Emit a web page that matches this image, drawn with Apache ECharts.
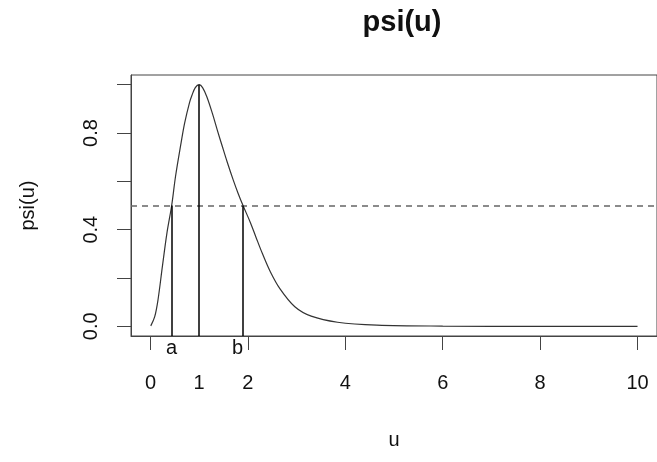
<!DOCTYPE html>
<html>
<head>
<meta charset="utf-8">
<script src="https://cdn.jsdelivr.net/npm/echarts@6/dist/echarts.min.js"></script>
<style>
  html, body { margin: 0; padding: 0; background: #fff; }
  #main { width: 657px; height: 462px; }
</style>
</head>
<body>
<div id="main"></div>
<script>
// curve
const uVals = [0.006, 0.087, 0.154, 0.244, 0.337, 0.435, 0.514, 0.629, 0.70, 0.80, 0.85, 0.92, 1.0,
  1.07, 1.157, 1.271, 1.372, 1.474, 1.575, 1.70, 1.80, 1.90, 2.05, 2.164, 2.30, 2.456, 2.66,
  2.964, 3.30, 3.84, 4.65, 6, 8, 10];
const psiVals = [0.002, 0.04, 0.109, 0.247, 0.385, 0.5, 0.62, 0.76, 0.84, 0.925, 0.955, 0.988, 1.0,
  0.988, 0.95, 0.881, 0.812, 0.745, 0.68, 0.605, 0.55, 0.5, 0.43, 0.37, 0.3, 0.228, 0.155,
  0.081, 0.042, 0.017, 0.005, 0.001, 0, 0];

// cut points a, 1, b and their heights
const cutU = [0.435, 1, 1.9];
const cutV = [0.5, 1, 0.5];
const cutNames = ['a', '', 'b'];
const level = 0.5;

const xTicks = [0, 2, 4, 6, 8, 10];
const xLabels = [0, 1, 2, 4, 6, 8, 10];
const yTicks = [0, 0.2, 0.4, 0.6, 0.8, 1.0];
const yLabels = [0, 0.4, 0.8];

const xMin = -0.4, xMax = 10.4;
const yMin = -0.04, yMax = 1.04;
const font = '"Liberation Sans", Arial, sans-serif';
const fs = 20;

const chart = echarts.init(document.getElementById('main'));

const curve = uVals.map((u, i) => [u, psiVals[i]]);

const cutLines = cutU.map((u, i) => [
  { coord: [u, yMin], lineStyle: { type: 'solid', color: '#000', width: 1.5 } },
  { coord: [u, cutV[i]] }
]);

const option = {
  animation: false,
  title: {
    text: 'psi(u)',
    left: 397,
    top: 3,
    textAlign: 'center',
    textStyle: { fontFamily: font, fontSize: 29, fontWeight: 'bold', color: '#111' }
  },
  grid: {
    left: 131, right: -6, top: 75, bottom: 126,
    show: true, borderColor: '#444', borderWidth: 1
  },
  xAxis: [
    {
      type: 'value', min: xMin, max: xMax,
      name: 'u', nameLocation: 'middle', nameGap: 94,
      nameTextStyle: { fontFamily: font, fontSize: fs, color: '#111' },
      axisLine: { show: true, onZero: false, lineStyle: { color: '#444' } },
      axisTick: { show: true, length: 14, customValues: xTicks, lineStyle: { color: '#444' } },
      axisLabel: {
        customValues: xLabels, margin: 37,
        fontFamily: font, fontSize: fs, color: '#111'
      },
      splitLine: { show: false }
    },
    {
      type: 'value', min: xMin, max: xMax, position: 'bottom',
      axisLine: { show: false, onZero: false }, axisTick: { show: false }, splitLine: { show: false },
      axisLabel: {
        customValues: [cutU[0], cutU[2]], margin: 2,
        fontFamily: font, fontSize: fs, color: '#111',
        formatter: v => {
          const n = cutNames[cutU.indexOf(v)];
          return n === 'b' ? '{sh|b}' : n;
        },
        rich: { sh: { fontFamily: font, fontSize: fs, color: '#111', padding: [0, 11, 0, 0] } }
      }
    }
  ],
  yAxis: {
    type: 'value', min: yMin, max: yMax,
    name: 'psi(u)', nameLocation: 'middle', nameGap: 93, nameRotate: 90,
    nameTextStyle: { fontFamily: font, fontSize: fs, color: '#111' },
    axisLine: { show: true, onZero: false, lineStyle: { color: '#444' } },
    axisTick: { show: true, length: 14, customValues: yTicks, lineStyle: { color: '#444' } },
    axisLabel: {
      customValues: yLabels, rotate: 90, margin: 30,
      fontFamily: font, fontSize: fs, color: '#111',
      formatter: v => v.toFixed(1)
    },
    splitLine: { show: false }
  },
  series: [
    {
      type: 'line',
      data: curve,
      smooth: 0.35,
      showSymbol: false,
      lineStyle: { color: '#333', width: 1.2 },
      markLine: {
        silent: true,
        symbol: ['none', 'none'],
        label: { show: false },
        data: [
          { yAxis: level, lineStyle: { type: [6, 5], color: '#666', width: 1.6 } },
          ...cutLines
        ]
      }
    }
  ]
};

chart.setOption(option);
</script>
</body>
</html>
